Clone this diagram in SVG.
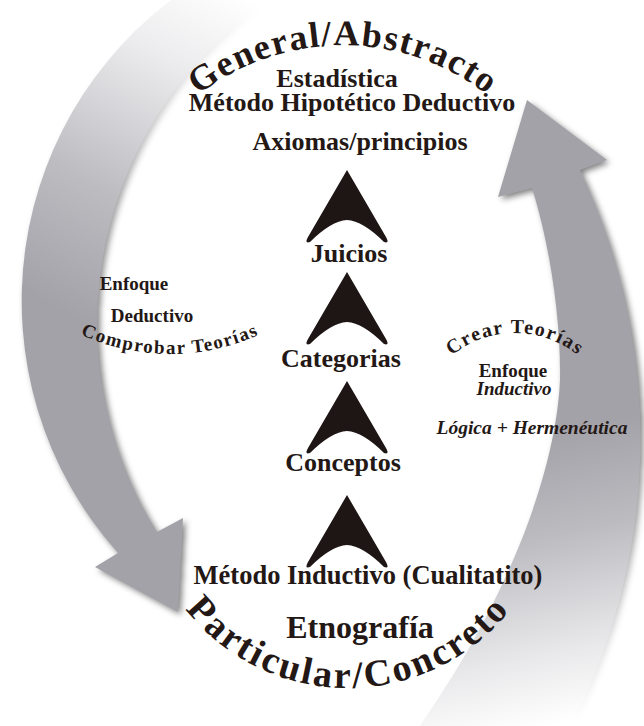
<svg xmlns="http://www.w3.org/2000/svg" width="644" height="726" viewBox="0 0 644 726">
<defs>
<style>
.t{font-family:"Liberation Serif","Times New Roman",serif;font-weight:bold;fill:#231815;text-anchor:middle}
.f26{font-size:26px}
.f19{font-size:19px}
.it{font-style:italic}
.chev{fill:#1e1614}
</style>
<linearGradient id="gL" gradientUnits="userSpaceOnUse" x1="250" y1="0" x2="80" y2="320">
<stop offset="0" stop-color="#ffffff"/>
<stop offset="0.25" stop-color="#ececee"/>
<stop offset="0.65" stop-color="#bdbcc1"/>
<stop offset="1" stop-color="#a3a2a9"/>
</linearGradient>
<linearGradient id="gR" gradientUnits="userSpaceOnUse" x1="610" y1="420" x2="670" y2="700">
<stop offset="0" stop-color="#a3a2a9"/>
<stop offset="0.35" stop-color="#bcbbc0"/>
<stop offset="0.75" stop-color="#e8e8ea"/>
<stop offset="1" stop-color="#ffffff"/>
</linearGradient>
<filter id="sh" x="-20%" y="-20%" width="140%" height="140%" color-interpolation-filters="sRGB">
<feColorMatrix in="SourceGraphic" type="matrix" values="0 0 0 0 0  0 0 0 0 0  0 0 0 0 0  -1.4 0 0 1.4 0" result="a"/>
<feGaussianBlur in="a" stdDeviation="3" result="b"/>
<feOffset in="b" dx="3" dy="3" result="c"/>
<feMerge><feMergeNode in="c"/><feMergeNode in="SourceGraphic"/></feMerge>
</filter>
<path id="chev" d="M0,0 L39,67 Q43,74 37,72 Q16,51 0,50 Q-16,51 -37,72 Q-43,74 -39,67 Z"/>
<path id="arcTop" d="M177,114 A235,235 0 0 1 509,114" fill="none"/>
<path id="arcBot" d="M168.7,584.5 A207,207 0 0 0 527.3,584.5" fill="none"/>
<path id="arcComp" d="M47.3,315.3 A214,214 0 0 0 292.7,315.3" fill="none"/>
<path id="arcCrear" d="M428.4,383 A100,100 0 0 1 601.6,383" fill="none"/>
</defs>
<rect width="644" height="726" fill="#ffffff"/>

<g id="connectors">
<path id="arrow-left" filter="url(#sh)" fill="url(#gL)" d="M200,-20 A378,378 0 0 0 118,553 L95,567 L178,612 L183,518 L157,532 A392,392 0 0 1 301,-20 Z"/>
<path id="arrow-right" filter="url(#sh)" fill="url(#gR)" d="M563,740 A625.6,625.6 0 0 0 580,170 L607,160 L527,100 L498,197 L532,188 C550,245 561,320 560,380 C556,470 510,600 410,740 Z"/>
<use href="#chev" class="chev" x="347" y="170"/>
<use href="#chev" class="chev" x="347" y="272"/>
<use href="#chev" class="chev" x="347" y="381"/>
<use href="#chev" class="chev" x="347" y="495"/>
</g>

<g id="general">
<text class="t" font-size="36" letter-spacing="1.5"><textPath href="#arcTop" startOffset="50%">General/Abstracto</textPath></text>
</g>
<g id="top-methods">
<text class="t f26" x="337" y="87">Estadística</text>
<text class="t f26" x="352" y="111">Método Hipotético Deductivo</text>
<text class="t f26" x="360" y="150">Axiomas/principios</text>
</g>
<g id="juicios"><text class="t f26" x="349" y="262">Juicios</text></g>
<g id="categorias"><text class="t f26" x="341" y="367">Categorias</text></g>
<g id="conceptos"><text class="t f26" x="343" y="471">Conceptos</text></g>
<g id="bottom-methods">
<text class="t" font-size="26.5" x="368" y="584">Método Inductivo (Cualitatito)</text>
<text class="t" font-size="32" x="360" y="638">Etnografía</text>
</g>
<g id="particular">
<text class="t" font-size="38" letter-spacing="2.5"><textPath href="#arcBot" startOffset="50%">Particular/Concreto</textPath></text>
</g>
<g id="deductivo">
<text class="t f19" x="134" y="290">Enfoque</text>
<text class="t f19" x="152" y="322">Deductivo</text>
<text class="t" font-size="19" letter-spacing="1.5"><textPath href="#arcComp" startOffset="50%">Comprobar Teorías</textPath></text>
</g>
<g id="inductivo">
<text class="t" font-size="20" letter-spacing="1.5"><textPath href="#arcCrear" startOffset="50%">Crear Teorías</textPath></text>
<text class="t f19" x="513" y="377">Enfoque</text>
<text class="t f19 it" x="514" y="395">Inductivo</text>
<text class="t it" font-size="19.5" x="532" y="434">Lógica + Hermenéutica</text>
</g>
</svg>
